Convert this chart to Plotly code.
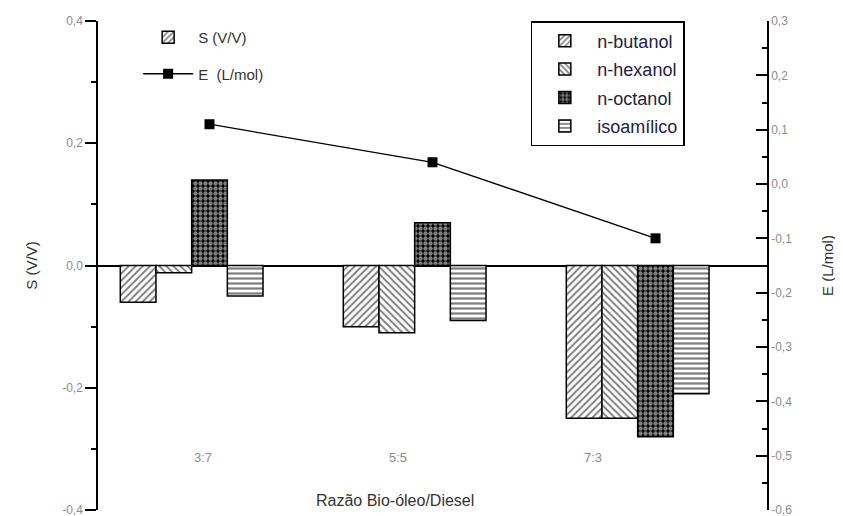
import plotly.graph_objects as go

# ---------------- data ----------------
ratios = ["3:7", "5:5", "7:3"]
solvents = ["n-butanol", "n-hexanol", "n-octanol", "isoamílico"]
s_butanol = [-0.06, -0.10, -0.25]
s_hexanol = [-0.012, -0.11, -0.25]
s_octanol = [0.14, 0.07, -0.28]
s_isoamilico = [-0.05, -0.09, -0.21]
e_values = [0.11, 0.04, -0.10]
s_ticks = [-0.4, -0.2, 0.0, 0.2, 0.4]
e_ticks = [-0.6, -0.5, -0.4, -0.3, -0.2, -0.1, 0.0, 0.1, 0.2, 0.3]


def fmt(v):
    return f"{v:.1f}".replace(".", ",")


FONT = "Liberation Sans, Arial, sans-serif"
TICKC = "#8c8c8c"
TXTC = "#333333"

series = [s_butanol, s_hexanol, s_octanol, s_isoamilico]
patterns = [
    dict(shape="/", fgcolor="black", bgcolor="white", size=5, solidity=0.4),
    dict(shape="\\", fgcolor="black", bgcolor="white", size=5, solidity=0.4),
    dict(shape=".", fgcolor="white", bgcolor="black", size=5, solidity=0.6),
    dict(shape="-", fgcolor="black", bgcolor="white", size=5, solidity=0.45),
]

fig = go.Figure()
for name, vals, pat in zip(solvents, series, patterns):
    fig.add_trace(go.Bar(
        x=ratios, y=vals, name=name,
        marker=dict(color="white", line=dict(color="black", width=1.5), pattern=pat),
        legend="legend2", legendgroup=name,
    ))

# legend-only entry for S (V/V)
fig.add_trace(go.Bar(
    x=[None], y=[None], name="S (V/V)",
    marker=dict(color="white", line=dict(color="black", width=1.5), pattern=patterns[0]),
    legend="legend", legendgroup="S",
))

fig.add_trace(go.Scatter(
    x=ratios, y=e_values, name="E  (L/mol)", yaxis="y2",
    mode="lines+markers",
    line=dict(color="black", width=1.3),
    marker=dict(symbol="square", size=10, color="black"),
    legend="legend", legendgroup="E",
))

# invisible trace for the category labels axis
fig.add_trace(go.Scatter(
    x=ratios, y=[None] * len(ratios), xaxis="x2", showlegend=False,
    hoverinfo="skip", mode="markers",
))

# page body has an 8px default margin -> figure drawn at (8, 8)
fig.update_layout(
    width=835, height=508,
    margin=dict(l=90, r=76, t=13, b=6, autoexpand=False),
    paper_bgcolor="white", plot_bgcolor="white",
    font=dict(family=FONT, color=TXTC),
    barmode="group", bargap=0.2, bargroupgap=0,
    xaxis=dict(range=[-0.5, 2.5], showticklabels=False, ticks="", showline=False,
               showgrid=False, zeroline=False, automargin=False),
    xaxis2=dict(overlaying="x", anchor="free", position=0.127, side="bottom",
                range=[-0.5385, 2.892], showline=False, ticks="", showgrid=False,
                zeroline=False, automargin=False, tickfont=dict(size=13, color=TICKC)),
    yaxis=dict(
        range=[s_ticks[0], s_ticks[-1]], tickvals=s_ticks,
        ticktext=[fmt(v) for v in s_ticks],
        ticks="outside", ticklen=11, tickwidth=1.5, tickcolor="black",
        minor=dict(dtick=0.1, tick0=-0.4, ticks="outside", ticklen=5, tickwidth=1.5,
                   tickcolor="black"),
        showline=True, linecolor="black", linewidth=1.5, showgrid=False,
        zeroline=True, zerolinecolor="black", zerolinewidth=1.5, automargin=False,
        ticklabeloverflow="allow",
        tickfont=dict(size=12, color=TICKC),
        title=dict(text="S (V/V)", font=dict(size=15, color=TXTC), standoff=21),
    ),
    yaxis2=dict(
        overlaying="y", side="right", anchor="x",
        range=[e_ticks[0], e_ticks[-1]], tickvals=e_ticks,
        ticktext=[fmt(v) for v in e_ticks],
        ticks="inside", ticklen=11, tickwidth=1.5, tickcolor="black",
        minor=dict(dtick=0.05, tick0=-0.6, ticks="inside", ticklen=5, tickwidth=1.5,
                   tickcolor="black"),
        showline=True, linecolor="black", linewidth=1.5, showgrid=False, zeroline=False,
        automargin=False, ticklabeloverflow="allow",
        tickfont=dict(size=12, color=TICKC),
        title=dict(text="E (L/mol)", font=dict(size=15, color=TXTC), standoff=31),
    ),
    legend=dict(x=0.06, y=1.0, xanchor="left", yanchor="top",
                bgcolor="rgba(0,0,0,0)", borderwidth=0,
                font=dict(size=15, color=TXTC), tracegroupgap=14, itemwidth=50),
    legend2=dict(x=0.647, y=1.0, xanchor="left", yanchor="top",
                 bgcolor="white", bordercolor="black", borderwidth=1.5,
                 font=dict(size=18, color="#222244"), tracegroupgap=2, itemwidth=55),
    annotations=[dict(text="Razão Bio-óleo/Diesel", xref="paper", yref="paper",
                      x=0.444, y=0.02, xanchor="center", yanchor="middle",
                      showarrow=False, font=dict(size=16, color=TXTC))],
)

fig.write_html("out.html")
